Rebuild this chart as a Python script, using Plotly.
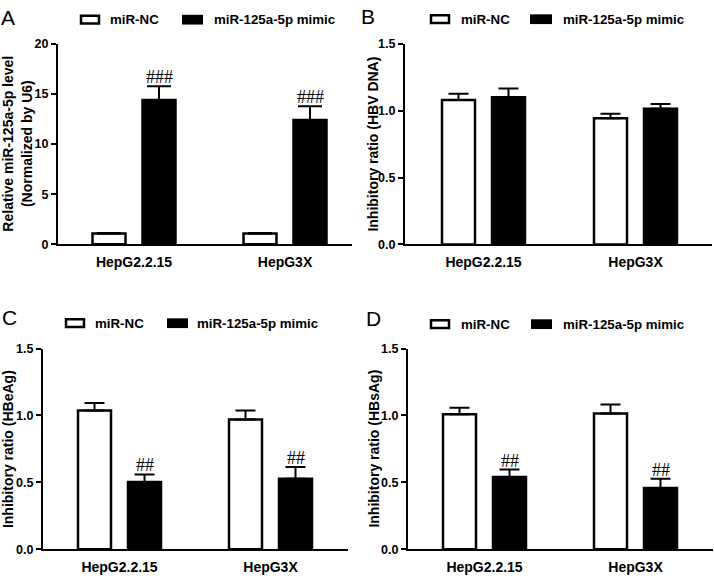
import plotly.graph_objects as go

# ---------------- data ----------------
categories = ["HepG2.2.15", "HepG3X"]
series_names = ["miR-NC", "miR-125a-5p mimic"]

A_nc = [1.07, 1.07]
A_nc_err = [0.05, 0.05]
A_mimic = [14.42, 12.41]
A_mimic_err = [1.37, 1.37]

B_nc = [1.08, 0.943]
B_nc_err = [0.046, 0.034]
B_mimic = [1.10, 1.014]
B_mimic_err = [0.066, 0.036]

C_nc = [1.038, 0.970]
C_nc_err = [0.056, 0.068]
C_mimic = [0.503, 0.528]
C_mimic_err = [0.056, 0.087]

D_nc = [1.009, 1.014]
D_nc_err = [0.049, 0.068]
D_mimic = [0.540, 0.459]
D_mimic_err = [0.056, 0.068]

A_marks = ["###", "###"]
C_marks = ["##", "##"]
D_marks = ["##", "##"]

A_ytitle = "Relative miR-125a-5p level<br>(Normalized by U6)"
B_ytitle = "Inhibitory ratio (HBV DNA)"
C_ytitle = "Inhibitory ratio (HBeAg)"
D_ytitle = "Inhibitory ratio (HBsAg)"

# ---------------- layout geometry (pixels) ----------------
W, H = 714, 581
FONT = "Liberation Sans, Arial, sans-serif"

panels = [
    dict(key="A", nc=A_nc, nce=A_nc_err, mm=A_mimic, mme=A_mimic_err, marks=A_marks,
         ytitle=A_ytitle, x0=58, x1=352, c1=134, sp=151, ytop=38, ybot=243,
         yr=[0, 20], dt=5, fmt="d", capw=12,
         title_xy=(17, 140), letter_xy=(8, 11),
         leg=dict(w=(80, 100), b=(182, 203), tw=108, tb=212, yc=13)),
    dict(key="B", nc=B_nc, nce=B_nc_err, mm=B_mimic, mme=B_mimic_err, marks=None,
         ytitle=B_ytitle, x0=405, x1=712, c1=483.5, sp=152, ytop=37.7, ybot=243.3,
         yr=[0, 1.5], dt=0.5, fmt=".1f", capw=10,
         title_xy=(373, 141), letter_xy=(368, 10),
         leg=dict(w=(430, 450), b=(530, 552), tw=459, tb=561, yc=12.5)),
    dict(key="C", nc=C_nc, nce=C_nc_err, mm=C_mimic, mme=C_mimic_err, marks=C_marks,
         ytitle=C_ytitle, x0=43, x1=348, c1=119.5, sp=151, ytop=350, ybot=555.7,
         yr=[0, 1.5], dt=0.5, fmt=".1f", capw=10,
         title_xy=(8, 453), letter_xy=(9, 318),
         leg=dict(w=(65, 85), b=(167, 188), tw=93, tb=195, yc=324)),
    dict(key="D", nc=D_nc, nce=D_nc_err, mm=D_mimic, mme=D_mimic_err, marks=D_marks,
         ytitle=D_ytitle, x0=408, x1=713, c1=484.5, sp=151, ytop=350, ybot=555.7,
         yr=[0, 1.5], dt=0.5, fmt=".1f", capw=10,
         title_xy=(374.5, 453), letter_xy=(373, 319),
         leg=dict(w=(430, 450), b=(531, 552), tw=459, tb=561, yc=325)),
]

BAR_W_PX = 33
NC_OFF_PX = -41.5
MM_OFF_PX = 8.5


def fx(px):
    return px / W


def fy(py):
    return 1 - py / H


fig = go.Figure()
layout = dict(
    width=W, height=H, margin=dict(l=0, r=0, t=0, b=0),
    paper_bgcolor="white", plot_bgcolor="white", showlegend=False,
    barmode="overlay",
)
annotations = []
shapes = []

xpos = list(range(len(categories)))

for i, p in enumerate(panels):
    n = "" if i == 0 else str(i + 1)
    xa, ya = "x" + n, "y" + n
    sp = p["sp"]
    bw = BAR_W_PX / sp

    fig.add_trace(go.Bar(
        x=xpos, y=p["nc"], xaxis=xa, yaxis=ya, name=series_names[0],
        width=bw, offset=NC_OFF_PX / sp,
        marker=dict(color="white", line=dict(color="black", width=2.5)),
        error_y=dict(type="data", symmetric=False, array=p["nce"],
                     arrayminus=[0] * len(categories),
                     color="black", thickness=2, width=p["capw"]),
    ))
    fig.add_trace(go.Bar(
        x=xpos, y=p["mm"], xaxis=xa, yaxis=ya, name=series_names[1],
        width=bw, offset=MM_OFF_PX / sp,
        marker=dict(color="black", line=dict(color="black", width=2.5)),
        error_y=dict(type="data", symmetric=False, array=p["mme"],
                     arrayminus=[0] * len(categories),
                     color="black", thickness=2, width=p["capw"]),
    ))

    xr = [-(p["c1"] - p["x0"]) / sp, (p["x1"] - p["c1"]) / sp]
    layout["xaxis" + n] = dict(
        domain=[fx(p["x0"]), fx(p["x1"])], range=xr, anchor=ya,
        tickmode="array", tickvals=xpos, ticktext=categories,
        showline=True, linecolor="black", linewidth=2,
        ticks="", ticklabelstandoff=4, showgrid=False, zeroline=False,
        tickfont=dict(family=FONT, size=14, color="black", weight="bold"),
        fixedrange=True,
    )
    layout["yaxis" + n] = dict(
        domain=[fy(p["ybot"]), fy(p["ytop"])], range=p["yr"], anchor=xa,
        dtick=p["dt"], tick0=0, tickformat=p["fmt"],
        showline=True, linecolor="black", linewidth=2,
        ticks="outside", ticklen=5, tickwidth=2, tickcolor="black",
        showgrid=False, zeroline=False,
        tickfont=dict(family=FONT, size=12.5, color="black", weight="bold"),
        fixedrange=True,
    )

    # y-axis title
    tx, ty = p["title_xy"]
    annotations.append(dict(
        text=p["ytitle"], x=fx(tx), y=fy(ty), xref="paper", yref="paper",
        textangle=-90, showarrow=False, xanchor="center", yanchor="middle",
        font=dict(family=FONT, size=14, color="black", weight="bold"),
    ))
    # panel letter
    lx, ly = p["letter_xy"]
    annotations.append(dict(
        text=p["key"], x=fx(lx), y=fy(ly), xref="paper", yref="paper",
        showarrow=False, xanchor="center", yanchor="middle",
        font=dict(family=FONT, size=21, color="black"),
    ))
    # significance marks
    if p["marks"]:
        for j, m in enumerate(p["marks"]):
            annotations.append(dict(
                text=m, x=j + (MM_OFF_PX + BAR_W_PX / 2) / sp,
                y=p["mm"][j] + p["mme"][j], xref=xa, yref=ya,
                showarrow=False, xanchor="center", yanchor="bottom", yshift=-3,
                font=dict(family="Liberation Serif, Times New Roman, serif",
                          size=18, color="black"),
            ))
    # legend
    lg = p["leg"]
    yc = lg["yc"]
    shapes.append(dict(type="rect", xref="paper", yref="paper",
                       x0=fx(lg["w"][0] + 1), x1=fx(lg["w"][1] - 1),
                       y0=fy(yc - 4), y1=fy(yc + 4),
                       fillcolor="white", line=dict(color="black", width=2.5)))
    shapes.append(dict(type="rect", xref="paper", yref="paper",
                       x0=fx(lg["b"][0]), x1=fx(lg["b"][1]),
                       y0=fy(yc - 5), y1=fy(yc + 5),
                       fillcolor="black", line=dict(width=0)))
    annotations.append(dict(
        text=series_names[0], x=fx(lg["tw"]), y=fy(yc), xref="paper", yref="paper",
        showarrow=False, xanchor="left", yanchor="middle",
        font=dict(family=FONT, size=13.3, color="black", weight="bold"),
    ))
    annotations.append(dict(
        text=series_names[1], x=fx(lg["tb"]), y=fy(yc), xref="paper", yref="paper",
        showarrow=False, xanchor="left", yanchor="middle",
        font=dict(family=FONT, size=13.3, color="black", weight="bold"),
    ))

layout["annotations"] = annotations
layout["shapes"] = shapes
fig.update_layout(**layout)
fig.write_html(
    "out.html",
    config={"displayModeBar": False},
    post_script="document.body.style.margin='0';document.body.style.overflow='hidden';",
)
